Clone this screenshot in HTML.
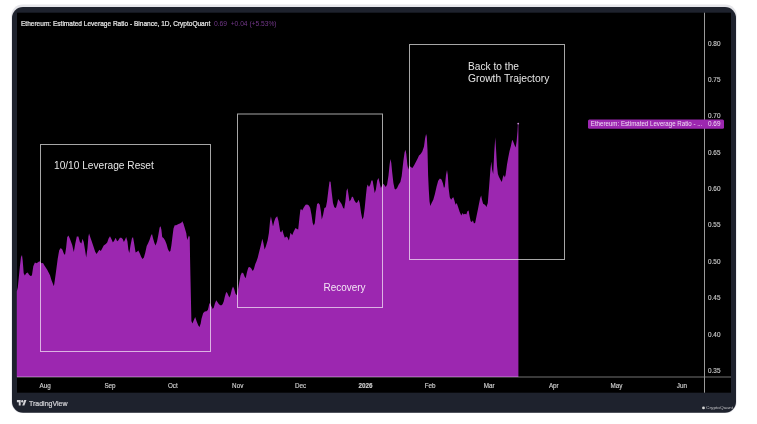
<!DOCTYPE html>
<html><head><meta charset="utf-8">
<style>
html,body{margin:0;padding:0;background:#fff;width:757px;height:424px;overflow:hidden;}
svg{position:absolute;left:0;top:0;display:block;will-change:transform;}
text{font-family:"Liberation Sans",sans-serif;}
</style></head>
<body>
<svg width="757" height="424" viewBox="0 0 757 424">
<rect x="0" y="0" width="757" height="424" fill="#ffffff"/>
<rect x="11.3" y="4.6" width="725.4" height="408.5" rx="11" fill="#e6e6ea"/>
<rect x="12" y="7" width="724" height="405.8" rx="11" fill="#1e222d"/>
<rect x="17" y="12.7" width="714" height="380" fill="#000"/>
<path d="M16.8,377 L16.8,291.6 L17.8,287.4 L18.8,277.5 L19.9,266.2 L21,257 L22,254.9 L22.7,260.5 L23.7,273.2 L24.8,275.4 L26.2,273.2 L27.7,272.5 L29.1,274.7 L30.5,276.1 L31.9,275.4 L33.3,266.2 L34.9,262.6 L36.6,263.3 L38,262.3 L39.4,261.2 L41.6,263.3 L43,262.9 L44.4,265.4 L47.2,269.7 L50,275.3 L51.5,280.2 L53.9,286.2 L54.6,281.7 L56.1,271 L57.7,258.7 L59.2,250.3 L60.7,248 L62.3,249.5 L63.8,253.4 L65,254.9 L66.1,248 L67.2,237.3 L68.4,235.4 L69.9,238.8 L72.2,244.9 L73.8,252 L75.3,243.4 L76.8,236.5 L78.4,236.5 L79.9,241.9 L81.4,243.4 L82.5,238.8 L83.7,241.9 L85.2,251 L86.2,257.5 L87.5,248 L88.4,236.5 L89.1,233.4 L90.2,237 L91.7,241.2 L93.3,246.1 L95.2,251.8 L96.6,253.9 L98,251.8 L99.4,249.7 L100.8,251.1 L102.3,248.3 L103.7,245.4 L105.8,244 L107.2,242.6 L108.6,238.4 L110,236.3 L111.4,239.1 L112.9,242.6 L114.3,240.5 L115.7,237.7 L117.1,241.2 L118.2,240.5 L119.9,237.7 L121.3,237.7 L122.7,239.1 L123.9,241.9 L125,239.8 L126.2,237 L127.4,241.2 L128.4,249.7 L129.3,253 L130.5,245.4 L131.9,238.4 L133,237 L134,242.6 L135.6,252.5 L137,251.8 L138.3,250.4 L139.7,253.2 L141.1,256.7 L142.5,258.9 L143.9,257.5 L145.3,252.5 L146.7,246.1 L148.1,243.3 L149.6,239.8 L151,235.5 L152,234.1 L153.1,238.4 L154.5,243.3 L155.6,245.4 L157.1,241.2 L158.5,234.1 L159.6,227.5 L160.6,226.3 L161.4,229.8 L162.2,236.9 L163.7,238.3 L165.1,240.4 L166.5,243.9 L167.9,248.9 L169.3,251.7 L170.4,251 L171.4,245.3 L172.6,235.4 L173.5,228.4 L174.7,225.3 L176.1,225.3 L177.1,224.8 L178.5,224.1 L179.9,223.4 L181.3,222.7 L182.3,221.3 L183.4,223.4 L184.9,228.4 L186.3,233.3 L187.2,240 L188.9,235.4 L189.7,237 L190.1,260 L191.4,321 L192.4,323.6 L194.1,319.5 L195.2,317 L196.6,321.2 L198.2,325.3 L199.5,327 L200.7,323.6 L201.5,318.7 L203.2,312.9 L204.8,311.6 L206.5,311.2 L207.8,310.1 L208.5,307.6 L209.2,304.1 L210,303 L211.4,306.2 L212.8,309.1 L213.8,307.6 L214.9,303.4 L216.3,300.2 L217.4,302 L218.8,304.1 L220.2,305.2 L221.6,305.2 L222.7,304.1 L223.8,301.3 L224.8,296.7 L226.2,292.1 L227.3,293.1 L228.4,295.6 L229.4,297.4 L230.5,294.9 L231.9,289.2 L233,286.4 L234.1,288.8 L235.5,293.8 L236.7,295.2 L237.7,291.6 L239.1,283.2 L240.5,275.4 L241.9,272.6 L243.3,273.3 L244.7,276.8 L245.7,278.2 L246.9,272.6 L248.3,267.6 L249.7,266.9 L251.1,268.3 L252.8,271.1 L253.9,269 L255.3,264.1 L256.5,261.2 L257.7,257.8 L259.3,251.2 L261,244.6 L262.3,238.8 L263.4,242.9 L264.6,249.5 L265.9,246.2 L267.6,240.5 L268.9,233 L270,221.4 L270.9,216.5 L272,221.4 L273,226.4 L274.2,221.4 L275.5,218.1 L277.2,216.2 L278.5,221 L280.2,231.5 L281.2,232.5 L282.3,229.8 L283.5,234 L284.8,237.8 L286.5,236.5 L287.5,237.5 L288.9,240.5 L290.5,232.8 L291.4,234 L292.2,235.3 L293.5,232 L295.5,227.9 L297,229 L298.2,229.5 L299.5,217 L300.4,209.7 L301.1,208.9 L302.2,210.5 L303.9,207.2 L305.6,204.8 L307.2,204.4 L308.9,205.6 L310.2,208.1 L311.5,214.7 L312.7,222.9 L313.8,225.4 L314.8,222.9 L316,211.4 L317.1,203.9 L318.4,203.1 L319.8,204.8 L320.9,211.4 L321.8,219.6 L323.1,214.7 L324.4,208.1 L325.9,207.2 L327,201.4 L328.4,189.9 L329.5,181.5 L330.6,181.8 L331.6,191.5 L333,203.1 L334.3,207.2 L335.9,208 L337.1,203.9 L338.2,198.9 L339.9,201.4 L341.6,203.9 L343.2,208 L344.2,208.8 L345.4,201.4 L346.5,190.7 L347.5,188.2 L348.5,194.8 L349.5,201.4 L350.8,199.8 L352,196.4 L353.1,197.3 L354.4,200.6 L356.1,203.1 L357.4,202.2 L358.6,199.8 L359.7,203.1 L361.1,213 L362.4,219.6 L363.5,217.1 L364.7,208 L366,194.8 L366.8,187.5 L367.6,184.6 L369,187.1 L370.3,184.6 L371.4,180.5 L372.6,180.5 L373.6,186.3 L374.7,192.9 L375.9,189.6 L377.2,180.5 L378.5,178 L379.7,183 L380.9,187.9 L382.2,185.5 L383.5,183.8 L384.7,185.5 L385.8,187.1 L387.1,184.6 L388.5,175.5 L389.6,164.8 L390.4,159 L391.3,163.1 L392.1,171.4 L393.4,183 L394.6,188.8 L395.7,189.6 L397.1,187.9 L398.7,184.6 L400.4,182.1 L401.7,176 L403.3,161.4 L404.6,152.3 L405.5,149.8 L406.3,153.9 L407.4,164.7 L408.3,169.6 L409.4,165.5 L410.7,167.1 L412.4,168 L414,165.5 L415.7,162.2 L417.4,158.9 L419,155.6 L420.7,153.9 L422.3,151.4 L424,146.5 L425.1,138.2 L426.1,134.1 L426.8,136.6 L427.5,150 L428.1,175 L428.8,190 L429.5,201.3 L430.3,206 L431.6,203 L433.3,199.7 L434.9,193.9 L436.6,186.5 L438.2,180.7 L439.9,178.6 L441.5,179.5 L442.9,183.2 L444,188.1 L444.8,186.5 L446,174.9 L447,170 L447.8,174.9 L448.6,188.1 L449.8,197.2 L451.1,199.7 L452.3,198.1 L453.4,197.2 L454.4,200.5 L455.6,204.7 L456.7,203 L458.1,207.1 L459.7,212.1 L461.3,215.4 L462.5,212.9 L463.6,214.5 L465,213.7 L466.3,214.5 L467.4,211.2 L468.6,210.4 L469.6,216.2 L470.7,221.2 L471.9,222 L472.9,220.3 L474,223.6 L475.2,222.8 L476.5,216.2 L477.9,209.6 L479,203.8 L480.2,198 L481.2,195.5 L482,199.7 L483.1,203.8 L484.5,204.6 L485.6,205.5 L486.4,207.1 L487.8,203 L489.1,186.8 L490.4,169.8 L491.3,161.5 L492.2,170 L493.2,174 L494.2,152.7 L495.3,137.3 L496.1,150 L497,166 L497.9,174 L498.9,176.7 L500.3,179.4 L501.8,182 L503,176.7 L503.9,175 L504.8,177.6 L505.6,175 L507,164.4 L508.3,157.3 L509.5,151.2 L510.9,145.9 L512.2,139.7 L513.2,141.5 L514.5,145 L515.7,147.6 L516.6,141.5 L517.5,130.9 L517.9,123.5 L518.4,123.5 L518.4,377 Z" fill="#9c27b0"/>
<circle cx="518.2" cy="123.6" r="0.9" fill="#c890d4"/>
<g fill="none" stroke="#fff" stroke-opacity="0.65" stroke-width="1">
<rect x="40.5" y="144.5" width="170" height="207"/>
<rect x="237.5" y="114" width="145" height="193.5"/>
<rect x="409.5" y="44.5" width="155" height="215"/>
</g>
<line x1="17" y1="376.9" x2="731" y2="376.9" stroke="#fff" stroke-opacity="0.3" stroke-width="1.5"/>
<line x1="704.5" y1="12.7" x2="704.5" y2="392.7" stroke="#9a9a9a" stroke-width="1"/>
<g fill="#e6e6e6" font-size="10.9" lengthAdjust="spacingAndGlyphs">
<text x="54" y="168.6" textLength="99.8" lengthAdjust="spacingAndGlyphs">10/10 Leverage Reset</text>
<text x="468" y="70.2" textLength="51" lengthAdjust="spacingAndGlyphs">Back to the</text>
<text x="468" y="81.8" textLength="81.3" lengthAdjust="spacingAndGlyphs">Growth Trajectory</text>
<text x="323.5" y="290.6" fill="#f4e6f6" textLength="42.1" lengthAdjust="spacingAndGlyphs">Recovery</text>
</g>
<g font-size="8.1" stroke-width="0.22">
<text x="21" y="25.5" fill="#ececec" stroke="#ececec" textLength="189.2" lengthAdjust="spacingAndGlyphs">Ethereum: Estimated Leverage Ratio - Binance, 1D, CryptoQuant</text>
<text x="213.9" y="25.5" fill="#73388a" textLength="13.2" lengthAdjust="spacingAndGlyphs">0.69</text>
<text x="230.7" y="25.5" fill="#73388a" textLength="45.9" lengthAdjust="spacingAndGlyphs">+0.04 (+5.53%)</text>
</g>
<g fill="#c8c8c8" font-size="6.4" stroke="#c8c8c8" stroke-width="0.15">
<text x="708" y="45.5">0.80</text><text x="708" y="81.9">0.75</text><text x="708" y="118.3">0.70</text><text x="708" y="154.7">0.65</text><text x="708" y="191.1">0.60</text><text x="708" y="227.4">0.55</text><text x="708" y="263.8">0.50</text><text x="708" y="300.2">0.45</text><text x="708" y="336.6">0.40</text><text x="708" y="373.0">0.35</text>
</g>
<rect x="588" y="119.5" width="136" height="9.2" rx="1.5" fill="#9c27b0"/>
<g fill="#f0dcf4" font-size="6.8">
<text x="590.8" y="126" textLength="111.5" lengthAdjust="spacingAndGlyphs">Ethereum: Estimated Leverage Ratio - ...</text>
<text x="708" y="126.2" font-size="6.4">0.69</text>
</g>
<g fill="#d0d0d0" font-size="6.3" text-anchor="middle" stroke="#d0d0d0" stroke-width="0.15">
<text x="45.2" y="387.6">Aug</text><text x="110.0" y="387.6">Sep</text><text x="172.8" y="387.6">Oct</text><text x="237.7" y="387.6">Nov</text><text x="300.5" y="387.6">Dec</text><text x="365.6" y="387.6" font-weight="bold">2026</text><text x="430.2" y="387.6">Feb</text><text x="489.2" y="387.6">Mar</text><text x="553.8" y="387.6">Apr</text><text x="616.5" y="387.6">May</text><text x="681.9" y="387.6">Jun</text>
</g>
<g fill="#d4d4d8" transform="translate(16.9,398.9) scale(0.268,0.3)">
<path d="M14 22H7V11H0V4h14v18z"/><path d="M28 22h-8l7.5-18h8L28 22z"/><circle cx="20" cy="8" r="4"/>
</g>
<text x="29" y="405.8" fill="#d8d8dc" stroke="#d8d8dc" stroke-width="0.2" font-size="7.6" font-family="Liberation Sans" textLength="38.5" lengthAdjust="spacingAndGlyphs">TradingView</text>
<circle cx="703.5" cy="407.9" r="1.4" fill="#d6d6d6"/>
<text x="706" y="409.3" fill="#c0c0c4" font-size="4.2" textLength="27" lengthAdjust="spacingAndGlyphs">CryptoQuant</text>
</svg>
</body></html>
